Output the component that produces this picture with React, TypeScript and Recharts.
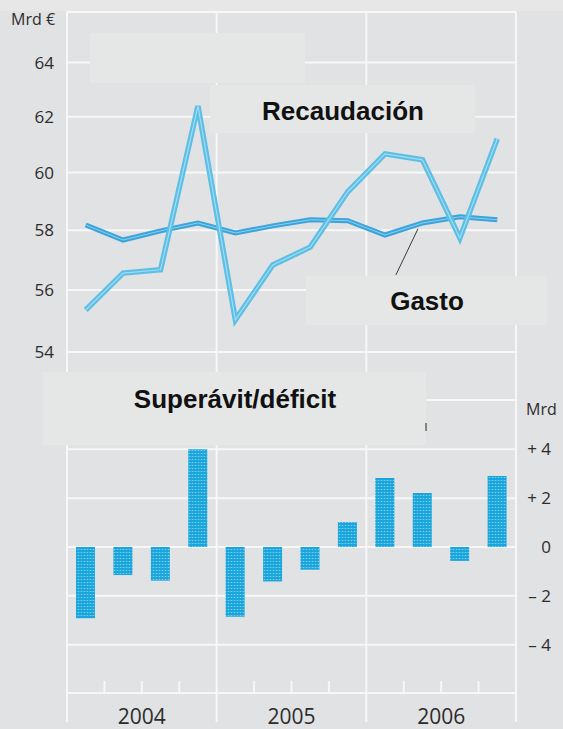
import React from 'react';
import { LineChart, Line, BarChart, Bar, XAxis, YAxis, CartesianGrid, ReferenceLine } from 'recharts';

// ---- data ----
const quarters = ['2004 T1', '2004 T2', '2004 T3', '2004 T4', '2005 T1', '2005 T2', '2005 T3', '2005 T4', '2006 T1', '2006 T2', '2006 T3', '2006 T4'];
const quarterPos = [0.5, 1.5, 2.5, 3.5, 4.5, 5.5, 6.5, 7.5, 8.5, 9.5, 10.5, 11.5];
const recaudacion = [55.35, 56.56, 56.67, 62.39, 55.03, 56.83, 57.43, 59.32, 60.66, 60.45, 57.74, 61.2];
const gasto = [58.18, 57.67, 57.98, 58.25, 57.91, 58.15, 58.36, 58.33, 57.84, 58.25, 58.46, 58.36];
const saldo = [-2.92, -1.15, -1.38, 4.0, -2.86, -1.41, -0.93, 1.02, 2.83, 2.21, -0.57, 2.91];
const years = ['2004', '2005', '2006'];
const yearBounds = [0, 4, 8, 12];
const quarterTicks = [0, 1, 2, 3, 4, 5, 6, 7, 8, 9, 10, 11, 12];
const leftTicks = [54, 56, 58, 60, 62, 64];
const rightTicks = [-4, -2, 0, 2, 4];
const topDomain: [number, number] = [52.5, 65.93];
const bottomDomain: [number, number] = [-5.98, 6.02];
const gastoLeader = [{ x: 9.38, y: 58.05 }, { x: 8.79, y: 56.5 }];

const data = quarterPos.map((x, i) => ({
  x,
  q: quarters[i],
  rec: recaudacion[i],
  gas: gasto[i],
  saldo: saldo[i],
}));

const GRID = '#f7f7f7';
const BG = '#e1e2e3';
const BOX = '#e5e6e6';
const TXT = '#2c2c2c';
const TICK_FONT = 'Open Sans, sans-serif';
const BOLD_FONT = 'Liberation Sans, Arial, sans-serif';

const fmtRight = (v: number) => (v > 0 ? `+ ${v}` : v < 0 ? `\u2013 ${Math.abs(v)}` : '0');

const RightTick = (props: any) => {
  const { x, y, payload } = props;
  return (
    <text x={x + 35} y={y} dy={6} textAnchor="end" fontSize={17} fontFamily={TICK_FONT} fill={TXT}>
      {fmtRight(payload.value)}
    </text>
  );
};

const XTick = (props: any) => {
  const { x, y, payload } = props;
  const v = payload.value as number;
  const bound = v % 4 === 0;
  const mid = v % 4 === 2;
  return (
    <g>
      {bound ? (
        <line x1={x} x2={x} y1={y} y2={y + 29} stroke={GRID} strokeWidth={2} />
      ) : (
        <line x1={x} x2={x} y1={y - 12} y2={y} stroke={GRID} strokeWidth={2} />
      )}
      {mid && (
        <text x={x} y={y + 31} textAnchor="middle" fontSize={21} fontFamily={TICK_FONT} fill={TXT}>
          {years[(v - 2) / 4]}
        </text>
      )}
    </g>
  );
};

export default function App() {
  return (
    <div style={{ position: 'absolute', left: 0, top: 0, width: 563, height: 729, background: BG, overflow: 'hidden' }}>
      <div style={{ position: 'absolute', left: 0, top: 0, width: 563, height: 11, background: '#e7e7e8' }} />
      <svg width={0} height={0} style={{ position: 'absolute' }}>
        <defs>
          <pattern id="dots" width={3} height={3} patternUnits="userSpaceOnUse">
            <rect width={3} height={3} fill="#19a6dc" />
            <rect width={1} height={1} fill="#ffffff" fillOpacity={0.45} />
            <rect x={1} y={0} width={2} height={1} fill="#ffffff" fillOpacity={0.12} />
          </pattern>
        </defs>
      </svg>

      {/* top line chart */}
      <div style={{ position: 'absolute', left: 0, top: 0 }}>
        <LineChart width={563} height={400} data={data} margin={{ top: 12, right: 47, bottom: 0, left: 0 }}>
          <CartesianGrid vertical={false} stroke={GRID} strokeWidth={2} />
          <XAxis dataKey="x" type="number" domain={[0, 12]} hide />
          <YAxis
            scale="log"
            domain={topDomain}
            ticks={leftTicks}
            width={67}
            tickSize={0}
            tickMargin={13}
            axisLine={false}
            tickLine={false}
            allowDataOverflow
            tick={{ fontSize: 17, fill: TXT, fontFamily: TICK_FONT }}
          />
          {yearBounds.map((v) => (
            <ReferenceLine key={v} x={v} stroke={GRID} strokeWidth={2} />
          ))}
          <ReferenceLine y={topDomain[1]} stroke={GRID} strokeWidth={2} />
          <ReferenceLine segment={gastoLeader} stroke="#3a3a3a" strokeWidth={1} />
          <Line dataKey="gas" type="linear" stroke="#3aa4db" strokeWidth={5} dot={false} activeDot={false} isAnimationActive={false} />
          <Line dataKey="gas" type="linear" stroke="#8bcff0" strokeWidth={1} dot={false} activeDot={false} isAnimationActive={false} />
          <Line dataKey="rec" type="linear" stroke="#5bbfe6" strokeWidth={5.5} dot={false} activeDot={false} isAnimationActive={false} />
          <Line dataKey="rec" type="linear" stroke="#a3dbf1" strokeWidth={1.2} dot={false} activeDot={false} isAnimationActive={false} />
        </LineChart>
      </div>

      {/* bottom bar chart */}
      <div style={{ position: 'absolute', left: 0, top: 0 }}>
        <BarChart width={563} height={729} data={data} margin={{ top: 400, right: 0, bottom: 0, left: 67 }}>
          <CartesianGrid vertical={false} stroke={GRID} strokeWidth={2} />
          <XAxis
            dataKey="x"
            type="number"
            domain={[0, 12]}
            ticks={quarterTicks}
            interval={0}
            height={36}
            tickSize={0}
            tickMargin={0}
            tickLine={false}
            axisLine={{ stroke: GRID, strokeWidth: 2 }}
            tick={XTick}
          />
          <YAxis
            orientation="right"
            domain={bottomDomain}
            ticks={rightTicks}
            width={47}
            tickSize={0}
            tickMargin={0}
            axisLine={false}
            tickLine={false}
            tick={RightTick}
          />
          {yearBounds.map((v) => (
            <ReferenceLine key={v} x={v} stroke={GRID} strokeWidth={2} />
          ))}
          <ReferenceLine y={bottomDomain[1]} stroke={GRID} strokeWidth={2} />
          <Bar dataKey="saldo" barSize={19} fill="url(#dots)" isAnimationActive={false} />
        </BarChart>
      </div>

      {/* annotation layer */}
      <svg width={563} height={729} style={{ position: 'absolute', left: 0, top: 0, pointerEvents: 'none' }}>
        <rect x={90} y={33} width={215} height={50} fill={BOX} />
        <rect x={210} y={85} width={265} height={48} fill={BOX} />
        <rect x={306} y={276} width={241} height={49} fill={BOX} />
        <rect x={43} y={372} width={383} height={73} fill={BOX} />
        <line x1={426} x2={426} y1={423} y2={431} stroke="#222" strokeWidth={1} />
        <text x={343} y={120} textAnchor="middle" fontSize={26} fontWeight="bold" fontFamily={BOLD_FONT} fill="#111">Recaudación</text>
        <text x={427} y={310} textAnchor="middle" fontSize={26} fontWeight="bold" fontFamily={BOLD_FONT} fill="#111">Gasto</text>
        <text x={235} y={408} textAnchor="middle" fontSize={26} fontWeight="bold" fontFamily={BOLD_FONT} fill="#111">Superávit/déficit</text>
        <text x={11} y={25} fontSize={16} fontFamily={TICK_FONT} fill={TXT}>Mrd €</text>
        <text x={526} y={415} fontSize={16} fontFamily={TICK_FONT} fill={TXT}>Mrd</text>
      </svg>
    </div>
  );
}
